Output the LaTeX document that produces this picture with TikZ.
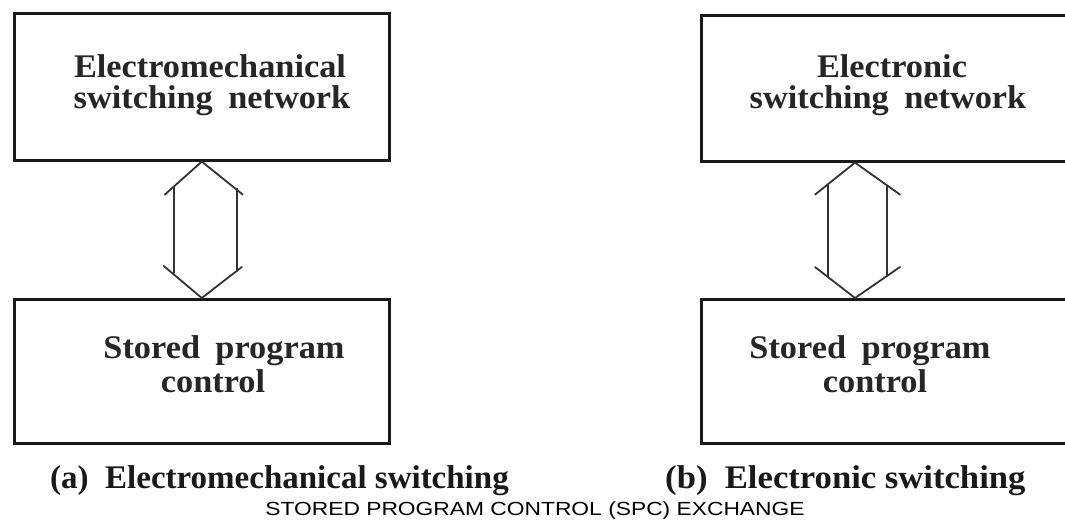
\documentclass[tikz,border=0pt]{standalone}
\usepackage{fontspec}
\usetikzlibrary{calc}
\newfontfamily\labelfont{Liberation Serif}[BoldFont={* Bold}]
\newfontfamily\titlefont{Liberation Sans}

\begin{document}
\begin{tikzpicture}[x=1pt, y=-1pt,
  block/.style={draw=black!90, line width=2.6pt, anchor=north west, inner sep=0pt},
  boxtext/.style={anchor=base, inner sep=0pt, xscale=1.04, font=\labelfont\bfseries\fontsize{33}{33}\selectfont, text=black!85},
  captext/.style={anchor=base west, inner sep=0pt, font=\labelfont\bfseries\fontsize{33}{33}\selectfont, text=black!90},
  arr/.style={draw=black!80, line width=1.8pt, line cap=round, line join=round}]

  % page frame
  \fill[white] (0,0) rectangle (1065,520);
  \clip (0,0) rectangle (1065,520);

  % (a) electromechanical exchange
  \node[block, minimum width=375pt, minimum height=147pt] (lt) at (13,12) {};
  \node[block, minimum width=375pt, minimum height=144pt] (lb) at (13,298) {};
  \node[boxtext] (lt1) at (210,77) {Electromechanical};
  \node[boxtext] (lt2) at (212,108) {switching\hspace{0.45em}network};
  \node[boxtext] (lb1) at (224,358) {Stored\hspace{0.45em}program};
  \node[boxtext] (lb2) at (213,392) {control};

  % (b) electronic exchange (boxes run off the right edge)
  \node[block, minimum width=380pt, minimum height=146pt] (rt) at (700,14) {};
  \node[block, minimum width=380pt, minimum height=144pt] (rb) at (700,298) {};
  \node[boxtext] (rt1) at (892,77) {Electronic};
  \node[boxtext] (rt2) at (888,108) {switching\hspace{0.45em}network};
  \node[boxtext] (rb1) at (870,358) {Stored\hspace{0.45em}program};
  \node[boxtext] (rb2) at (875,392) {control};

  % hollow double arrow, left
  \coordinate (lat) at (lt.south);
  \coordinate (lab) at (lb.north);
  \draw[arr] ($(lat)+(-37,33)$) -- (lat) -- ($(lat)+(41,33)$);
  \draw[arr] ($(lab)+(-38,-32)$) -- (lab) -- ($(lab)+(40,-31)$);
  \draw[arr] ($(lat)+(-28,25)$) -- ($(lab)+(-28,-25)$);
  \draw[arr] ($(lat)+(35,27)$) -- ($(lab)+(35,-27)$);

  % hollow double arrow, right
  \coordinate (rax) at (855,0);
  \coordinate (rat) at (rt.south -| rax);
  \coordinate (rab) at (rb.north -| rax);
  \draw[arr] ($(rat)+(-40,32)$) -- (rat) -- ($(rat)+(45,32)$);
  \draw[arr] ($(rab)+(-40,-31)$) -- (rab) -- ($(rab)+(45,-31)$);
  \draw[arr] ($(rat)+(-27,22)$) -- ($(rab)+(-27,-21)$);
  \draw[arr] ($(rat)+(32,23)$) -- ($(rab)+(32,-22)$);

  % captions
  \node[captext] (capa) at (50,488) {(a)\hspace{0.5em}Electromechanical switching};
  \node[captext, xscale=1.05] (capb) at (665,488) {(b)\hspace{0.5em}Electronic switching};
  \node[anchor=base, inner sep=0pt, xscale=1.2, font=\titlefont\fontsize{19}{19}\selectfont] (title) at (535,515) {STORED PROGRAM CONTROL (SPC) EXCHANGE};
\end{tikzpicture}
\end{document}
